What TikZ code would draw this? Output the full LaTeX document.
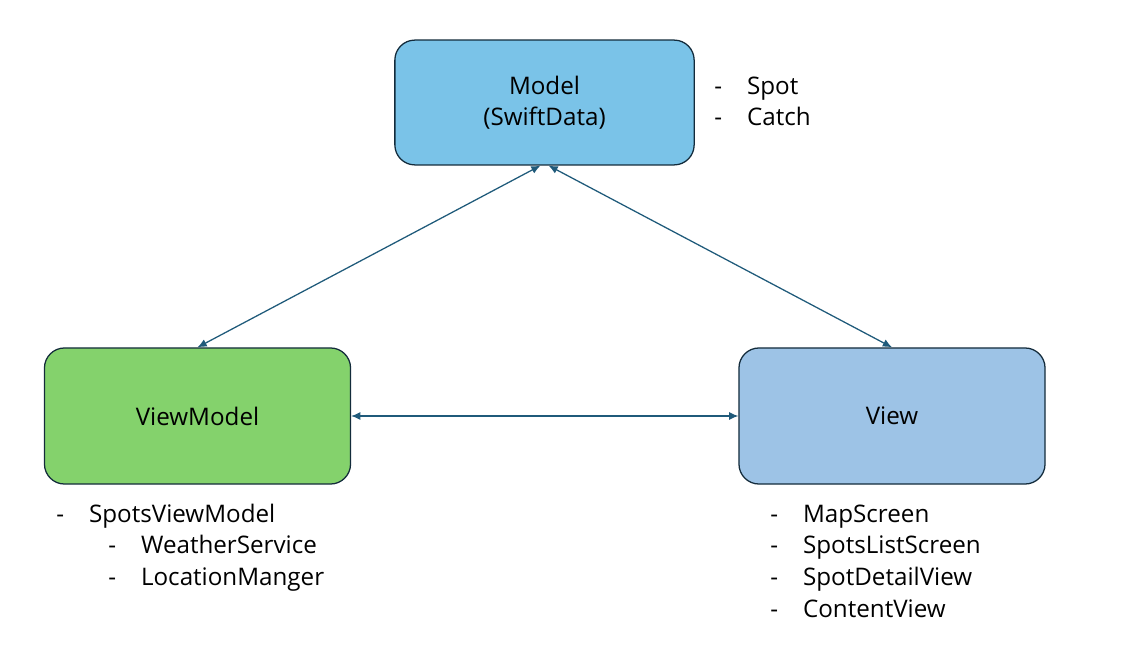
\documentclass[tikz,border=0pt]{standalone}
\usepackage{fontspec}
\setmainfont{Open Sans}
\usetikzlibrary{arrows.meta}

\definecolor{modelfill}{HTML}{7AC3E8}
\definecolor{vmfill}{HTML}{84D26C}
\definecolor{viewfill}{HTML}{9DC3E6}
\definecolor{edgedark}{HTML}{132B3B}
\definecolor{arrowblue}{HTML}{1F5A7A}

\newcommand{\li}[1]{\makebox[0.82cm][l]{-}#1}

\tikzset{
  layer/.style={draw=edgedark, line width=0.9pt, rounded corners=0.5cm,
    minimum width=7.65cm, minimum height=3.4cm, align=center,
    font=\fontsize{17.2}{22}\selectfont},
  item/.style={anchor=base west, inner sep=0pt, font=\fontsize{17.2}{22}\selectfont},
  link/.style={arrowblue, line width=0.9pt, {Latex[length=2.3mm,width=2mm]}-{Latex[length=2.3mm,width=2mm]}}
}

\begin{document}
\begin{tikzpicture}[x=0.025cm,y=-0.025cm]
  \useasboundingbox (0,0) rectangle (1128,648);

  % Boxes
  \node[layer, fill=modelfill, minimum width=7.48cm, minimum height=3.12cm] (model) at (544.5,102.5) {Model\\(SwiftData)};
  \node[layer, fill=vmfill] (vm) at (197.5,416) {ViewModel};
  \node[layer, fill=viewfill] (view) at (892,416) {View};

  % Model entities
  \node[item] (spot) at (714,95) {\li{Spot}};
  \node[item] (catch) at (714,126) {\li{Catch}};

  % ViewModel classes
  \node[item] (svm) at (56,522) {\li{SpotsViewModel}};
  \node[item] (weather) at (108,553) {\li{WeatherService}};
  \node[item] (location) at (108,585) {\li{LocationManger}};

  % View classes
  \node[item] (map) at (770,522) {\li{MapScreen}};
  \node[item] (list) at (770,553) {\li{SpotsListScreen}};
  \node[item] (detail) at (770,585) {\li{SpotDetailView}};
  \node[item] (content) at (770,617) {\li{ContentView}};

  % Connections
  \draw[link] ([xshift=-0.1cm]model.south) -- (vm.north);
  \draw[link] ([xshift=0.1cm]model.south) -- (view.north);
  \draw[link] (vm.east) -- (view.west);
\end{tikzpicture}
\end{document}
